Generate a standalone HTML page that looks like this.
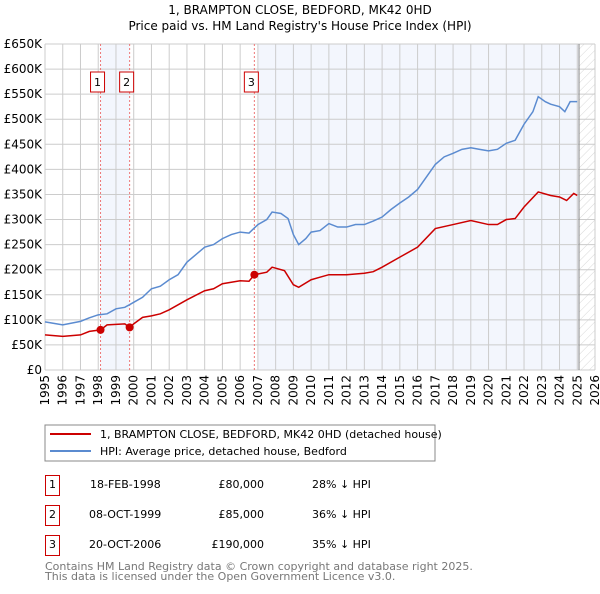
<!DOCTYPE html>
<html><head><meta charset="utf-8"><style>
body{margin:0;background:#fff;font-family:"DejaVu Sans","Liberation Sans",sans-serif;}
svg text{font-family:"DejaVu Sans","Liberation Sans",sans-serif;}
</style></head><body>
<svg id="c" width="600" height="590" xmlns="http://www.w3.org/2000/svg">
<defs><pattern id="hatch" width="6" height="6" patternUnits="userSpaceOnUse" patternTransform="rotate(45)"><line x1="0" y1="0" x2="0" y2="6" stroke="#d8d8d8" stroke-width="1"/></pattern></defs>
<text x="300" y="14" text-anchor="middle" font-size="12">1, BRAMPTON CLOSE, BEDFORD, MK42 0HD</text>
<text x="300" y="30" text-anchor="middle" font-size="12">Price paid vs. HM Land Registry's House Price Index (HPI)</text>
<g id="plot"></g>
<rect x="45" y="425" width="390" height="36" fill="#fff" stroke="#888"/>
<line x1="50" y1="434" x2="91" y2="434" stroke="#cc0000" stroke-width="2"/>
<text x="100" y="438" font-size="11">1, BRAMPTON CLOSE, BEDFORD, MK42 0HD (detached house)</text>
<line x1="50" y1="451" x2="91" y2="451" stroke="#5b8bd0" stroke-width="2"/>
<text x="100" y="455" font-size="11">HPI: Average price, detached house, Bedford</text>
<g font-size="11">
<rect x="45.5" y="475.5" width="14" height="20" fill="none" stroke="#cc0000"/><text x="52.5" y="488" text-anchor="middle">1</text>
<text x="90" y="488">18-FEB-1998</text><text x="264" y="488" text-anchor="end">£80,000</text><text x="312" y="488">28% ↓ HPI</text>
<rect x="45.5" y="505.5" width="14" height="20" fill="none" stroke="#cc0000"/><text x="52.5" y="518" text-anchor="middle">2</text>
<text x="89" y="518">08-OCT-1999</text><text x="264" y="518" text-anchor="end">£85,000</text><text x="312" y="518">36% ↓ HPI</text>
<rect x="45.5" y="535.5" width="14" height="20" fill="none" stroke="#cc0000"/><text x="52.5" y="548" text-anchor="middle">3</text>
<text x="89" y="548">20-OCT-2006</text><text x="264" y="548" text-anchor="end">£190,000</text><text x="312" y="548">35% ↓ HPI</text>
</g>
<text x="45" y="570" font-size="11" fill="#777">Contains HM Land Registry data © Crown copyright and database right 2025.</text>
<text x="45" y="580" font-size="11" fill="#777">This data is licensed under the Open Government Licence v3.0.</text>
</svg>
<script>
const hpiYears=[1995,1995.5,1996,1997,1997.5,1998,1998.5,1999,1999.5,2000,2000.5,2001,2001.5,2002,2002.5,2003,2003.5,2004,2004.5,2005,2005.5,2006,2006.5,2007,2007.5,2007.8,2008.3,2008.7,2009,2009.3,2009.7,2010,2010.5,2011,2011.5,2012,2012.5,2013,2013.5,2014,2014.5,2015,2015.5,2016,2016.5,2017,2017.5,2018,2018.5,2019,2019.5,2020,2020.5,2021,2021.5,2022,2022.5,2022.8,2023.2,2023.5,2024,2024.3,2024.6,2025];
const hpiValues=[96,93,90,97,104,110,112,122,125,135,145,162,167,180,190,215,230,245,250,262,270,275,273,290,300,315,312,302,270,250,262,275,278,292,285,285,290,290,297,305,320,333,345,360,385,410,425,432,440,443,440,437,440,452,458,490,515,545,535,530,525,515,535,535];
const propYears=[1995,1996,1997,1997.5,1998.13,1998.5,1999.5,1999.77,2000,2000.5,2001,2001.5,2002,2003,2004,2004.5,2005,2006,2006.5,2006.8,2007.5,2007.8,2008.5,2009,2009.3,2010,2010.5,2011,2012,2013,2013.5,2014,2015,2016,2017,2018,2019,2020,2020.5,2021,2021.5,2022,2022.8,2023.5,2024,2024.4,2024.8,2025];
const propValues=[70,67,70,77,80,90,92,85,92,105,108,112,120,140,158,162,172,178,177,190,195,205,198,170,165,180,185,190,190,193,196,205,225,245,282,290,298,290,290,300,302,325,355,348,345,338,352,348];
const saleYears=[1998.13,1999.77,2006.8];
const saleValues=[80,85,190];
const saleLabels=["1","2","3"];
const yTicks=[0,50,100,150,200,250,300,350,400,450,500,550,600,650];
const xTicks=[1995,1996,1997,1998,1999,2000,2001,2002,2003,2004,2005,2006,2007,2008,2009,2010,2011,2012,2013,2014,2015,2016,2017,2018,2019,2020,2021,2022,2023,2024,2025,2026];
const X0=45,X1=595,Y0=370,Y1=44;
const xs=y=>X0+(y-1995)/31*(X1-X0);
const ys=v=>Y0-v/650*(Y0-Y1);
const NS="http://www.w3.org/2000/svg";
const g=document.getElementById('plot');
function mk(t,a){const e=document.createElementNS(NS,t);for(const k in a)e.setAttribute(k,a[k]);g.appendChild(e);return e;}
let e;
e=mk('rect',{x:xs(saleYears[0]),y:Y1,width:xs(saleYears[1])-xs(saleYears[0]),height:Y0-Y1,fill:'#f3f6fd'});


e=mk('rect',{x:xs(2007),y:Y1,width:xs(2025.1)-xs(2007),height:Y0-Y1,fill:'#f3f6fd'});


e=mk('rect',{x:xs(2025.1),y:Y1,width:X1-xs(2025.1),height:Y0-Y1,fill:'url(#hatch)'});


yTicks.forEach(v=>{
 e=mk('line',{x1:X0,x2:X1,y1:ys(v),y2:ys(v),stroke:'#ccc','stroke-width':1});
 
 
 e=mk('text',{x:X0-3,y:ys(v)+4,'text-anchor':'end','font-size':12});
 e.textContent=v===0?'£0':'£'+v+'K';
 
 
});
xTicks.forEach(y=>{
 e=mk('line',{x1:xs(y),x2:xs(y),y1:Y1,y2:Y0,stroke:'#ccc','stroke-width':1});
 
 
 e=mk('text',{x:0,y:0,'font-size':12,'text-anchor':'end',transform:`translate(${xs(y)+4},${Y0+5}) rotate(-90)`});
 e.textContent=y;
 
 
});
e=mk('line',{x1:xs(2025.1),x2:xs(2025.1),y1:Y1,y2:Y0,stroke:'#888','stroke-width':1});


saleYears.forEach((y,i)=>{
 e=mk('line',{x1:xs(y),x2:xs(y),y1:Y1,y2:Y0,stroke:'#ee7777','stroke-width':1,'stroke-dasharray':'2,2'});
 
 
 e=mk('rect',{x:xs(y)-10,y:72,width:14,height:20,fill:'#fff',stroke:'#cc0000'});
 
 
 e=mk('text',{x:xs(y)-3,y:86,'text-anchor':'middle','font-size':11});
 e.textContent=saleLabels[i];
 
 
});
e=mk('polyline',{points:hpiYears.map((y,i)=>xs(y)+','+ys(hpiValues[i])).join(' '),fill:'none',stroke:'#5b8bd0','stroke-width':1.5});


e=mk('polyline',{points:propYears.map((y,i)=>xs(y)+','+ys(propValues[i])).join(' '),fill:'none',stroke:'#cc0000','stroke-width':1.5});


saleYears.forEach((y,i)=>{
 e=mk('circle',{cx:xs(y),cy:ys(saleValues[i]),r:4,fill:'#cc0000'});
 
 
});
</script>
</body></html>
